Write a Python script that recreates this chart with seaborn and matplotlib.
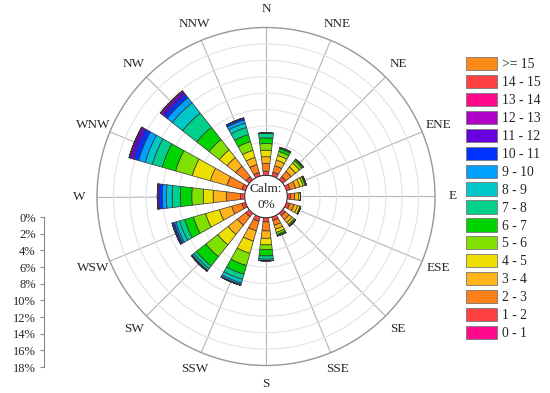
import numpy as np
import matplotlib
matplotlib.use("Agg")
import matplotlib.pyplot as plt
import seaborn as sns
from matplotlib.patches import Patch

# directions and speed bins
directions = ["N", "NNE", "NE", "ENE", "E", "ESE", "SE", "SSE",
              "S", "SSW", "SW", "WSW", "W", "WNW", "NW", "NNW"]
speed_bins = ["0 - 1", "1 - 2", "2 - 3", "3 - 4", "4 - 5", "5 - 6", "6 - 7", "7 - 8",
              "8 - 9", "9 - 10", "10 - 11", "11 - 12", "12 - 13", "13 - 14", "14 - 15", ">= 15"]
bin_colors = ["#FF0A8C", "#FF4040", "#FF8019", "#FFB419", "#EDE000", "#80E000", "#00D400", "#00D08C",
              "#00C8C8", "#00A0FF", "#0033FF", "#6A00E0", "#B000C8", "#FF0A8C", "#FF4040", "#FF8C1A"]

# frequency (%) per direction, one list per speed bin (order of `directions`)
s_0_1 = [0, 0, 0, 0, 0, 0, 0, 0, 0, 0, 0, 0, 0, 0, 0, 0]
s_1_2 = [0.5, 0.5, 0.5, 0.45, 0.4, 0.4, 0.4, 0.45, 0.5, 0.55, 0.55, 0.45, 0.5, 0.45, 0.5, 0.45]
s_2_3 = [0.95, 0.8, 0.8, 0.7, 0.5, 0.55, 0.6, 0.6, 1.1, 1.2, 1.3, 1.3, 1.75, 1.9, 1.6, 1.0]
s_3_4 = [0.8, 0.7, 0.7, 0.55, 0.45, 0.45, 0.45, 0.5, 0.9, 1.3, 1.45, 1.55, 1.6, 2.1, 1.35, 0.9]
s_4_5 = [0.8, 0.6, 0.6, 0.4, 0.25, 0.3, 0.3, 0.4, 0.8, 1.55, 1.6, 1.75, 1.2, 2.3, 1.2, 0.9]
s_5_6 = [0.8, 0.5, 0.35, 0.25, 0, 0.1, 0.15, 0.25, 0.6, 1.55, 1.85, 1.55, 1.4, 2.1, 1.6, 1.1]
s_6_7 = [0.7, 0.35, 0.2, 0.15, 0, 0, 0.1, 0.2, 0.75, 1.1, 1.45, 1.1, 1.4, 1.7, 1.9, 0.9]
s_7_8 = [0.6, 0.15, 0.05, 0, 0, 0, 0, 0, 0.4, 0.65, 0.4, 0.65, 1.0, 1.25, 2.2, 0.9]
s_8_9 = [0, 0, 0, 0, 0, 0, 0, 0, 0.2, 0.45, 0.25, 0.45, 0.7, 0.9, 1.6, 0.55]
s_9_10 = [0, 0, 0, 0, 0, 0, 0, 0, 0, 0.2, 0.1, 0.2, 0.5, 0.85, 0.8, 0.4]
s_10_11 = [0, 0, 0, 0, 0, 0, 0, 0, 0, 0.1, 0.05, 0.2, 0.4, 0.6, 0.5, 0.25]
s_11_12 = [0, 0, 0, 0, 0, 0, 0, 0, 0, 0, 0, 0.1, 0.2, 0.45, 0.35, 0]
s_12_13 = [0, 0, 0, 0, 0, 0, 0, 0, 0, 0, 0, 0, 0, 0.15, 0.2, 0]
s_13_14 = [0] * 16
s_14_15 = [0] * 16
s_15_up = [0] * 16
bin_values = [s_0_1, s_1_2, s_2_3, s_3_4, s_4_5, s_5_6, s_6_7, s_7_8,
              s_8_9, s_9_10, s_10_11, s_11_12, s_12_13, s_13_14, s_14_15, s_15_up]

r_ticks = list(range(0, 19, 2))
calm_text = "Calm:\n0%"

sns.set_style("white")
plt.rcParams["font.family"] = ["Liberation Serif", "DejaVu Serif"]

fig = plt.figure(figsize=(5.5, 3.93), dpi=100)
ax = fig.add_axes([97 / 550, 27.5 / 393, 338 / 550, 338 / 393], projection="polar")
ax.set_theta_zero_location("N")
ax.set_theta_direction(-1)

theta = np.deg2rad(np.arange(len(directions)) * 22.5)
width = np.deg2rad(13.5)
bottom = np.zeros(len(directions))
for vals, col in zip(bin_values, bin_colors):
    vals = np.array(vals, dtype=float)
    ax.bar(theta, vals, width=width, bottom=bottom, color=col,
           edgecolor="#333333", linewidth=0.5, zorder=3)
    bottom += vals

ax.set_rorigin(-2.6)
ax.set_ylim(0, 18)
ax.set_yticks(r_ticks[1:])
ax.set_yticklabels([])
ax.set_xticks(theta)
ax.set_xticklabels(directions, fontsize=9.5)
ax.set_xticks(theta + np.deg2rad(11.25), minor=True)
ax.tick_params(axis="x", which="major", pad=6, length=4, direction="in", color="#999999")
ax.tick_params(axis="x", which="minor", length=4, direction="in", color="#999999")
ax.yaxis.grid(True, color="#e2e2e2", linewidth=0.8)
ax.xaxis.grid(True, color="#b5b5b5", linewidth=0.8)
ax.spines["polar"].set_color("#999999")
ax.spines["polar"].set_linewidth(1.0)
ax.spines["inner"].set_visible(False)

fig.text(266 / 550, 1 - 197 / 393, calm_text, ha="center", va="center",
         fontsize=9.5, linespacing=1.35, zorder=5)

# radial scale on the left
sax = fig.add_axes([44 / 550, 26 / 393, 0.001, 150 / 393])
sax.set_ylim(18, 0)
sax.set_yticks(r_ticks)
sax.set_yticklabels([f"{v}%" for v in r_ticks], fontsize=9)
sax.set_xticks([])
for s in ["top", "right", "bottom"]:
    sax.spines[s].set_visible(False)
sax.spines["left"].set_color("#888888")
sax.tick_params(axis="y", length=3, pad=3, color="#888888", left=True)
sax.patch.set_alpha(0)

handles = [Patch(facecolor=c, edgecolor="#777777", linewidth=0.6, label=l)
           for c, l in zip(bin_colors, speed_bins)][::-1]
fig.legend(handles=handles, loc="upper left", bbox_to_anchor=(465.5 / 550, 1 - 57 / 393),
           frameon=False, fontsize=9.8, handlelength=2.3, handleheight=1.12,
           labelspacing=0.27, handletextpad=0.4, borderpad=0, borderaxespad=0)

fig.savefig("out.png", dpi=100)
